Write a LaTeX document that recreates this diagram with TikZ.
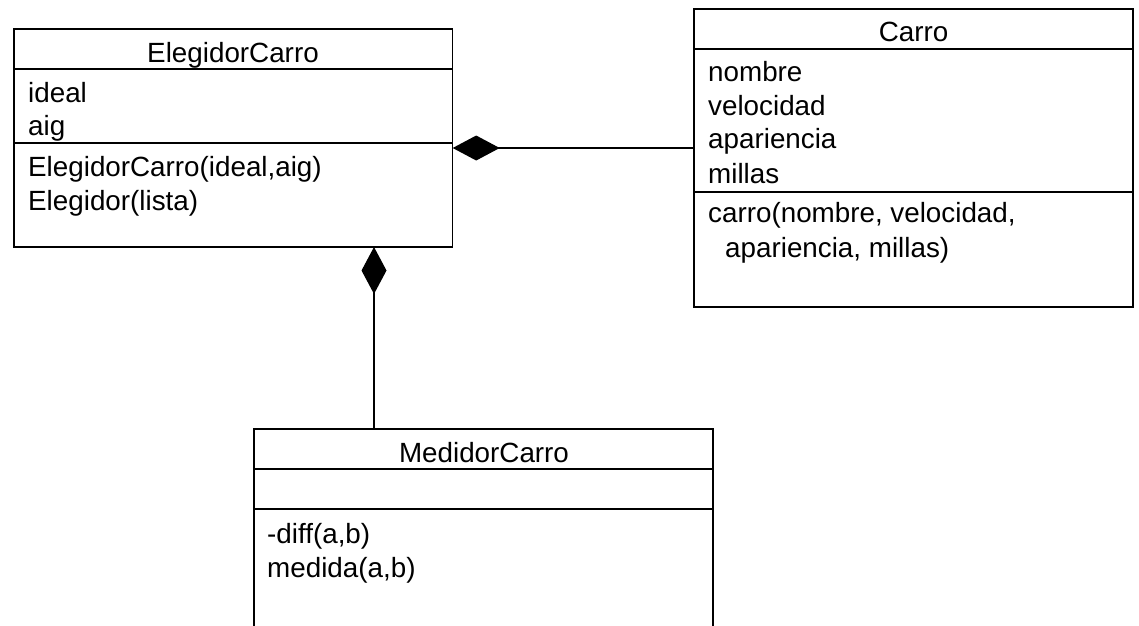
\documentclass[tikz,border=0pt]{standalone}
\usepackage{fontspec}
\setmainfont{Liberation Sans}
\usetikzlibrary{arrows.meta}
\begin{document}
\begin{tikzpicture}[x=1pt,y=-1pt,
  classbox/.style={draw, line width=1.5pt, inner sep=0pt, outer sep=0pt, anchor=north west},
  divider/.style={line width=1.5pt},
  txt/.style={inner sep=0pt, anchor=base west, font=\fontsize{27.8pt}{34pt}\selectfont},
  title/.style={inner sep=0pt, anchor=base, font=\fontsize{27.8pt}{34pt}\selectfont},
  comp/.style={line width=1.5pt, {Diamond[length=47pt,width=25pt,fill=black]}-}]
\useasboundingbox (0,0) rectangle (1139,625);
\fill[white] (0,0) rectangle (1139,625);
\clip (0,0) rectangle (1139,625);

% ElegidorCarro
\node[classbox, minimum width=438.7pt, minimum height=218pt] (elegidor) at (14,29) {};
\draw[divider] (elegidor.west |- 0,69) -- (elegidor.east |- 0,69);
\draw[divider] (elegidor.west |- 0,143) -- (elegidor.east |- 0,143);
\node[title] (elegidorname) at (233,62) {ElegidorCarro};
\node[txt] (eattr1) at (28,102) {ideal};
\node[txt] (eattr2) at (28,135) {aig};
\node[txt] (emeth1) at (28,176) {ElegidorCarro(ideal,aig)};
\node[txt] (emeth2) at (28,210.5) {Elegidor(lista)};

% Carro
\node[classbox, minimum width=439pt, minimum height=298pt] (carro) at (694,9) {};
\draw[divider] (carro.west |- 0,49) -- (carro.east |- 0,49);
\draw[divider] (carro.west |- 0,192) -- (carro.east |- 0,192);
\node[title] (carroname) at (913.5,41.5) {Carro};
\node[txt] (cattr1) at (708,81) {nombre};
\node[txt] (cattr2) at (708,115) {velocidad};
\node[txt] (cattr3) at (708,148.5) {apariencia};
\node[txt] (cattr4) at (708,183) {millas};
\node[txt] (cmeth1) at (708,222) {carro(nombre, velocidad,};
\node[txt] (cmeth2) at (725,257) {apariencia, millas)};

% MedidorCarro (runs past the lower edge)
\node[classbox, minimum width=459pt, minimum height=300pt] (medidor) at (254,429) {};
\draw[divider] (medidor.west |- 0,469) -- (medidor.east |- 0,469);
\draw[divider] (medidor.west |- 0,509) -- (medidor.east |- 0,509);
\node[title] (medidorname) at (484,462) {MedidorCarro};
\node[txt] (mmeth1) at (267,543) {-diff(a,b)};
\node[txt] (mmeth2) at (267,577) {medida(a,b)};

% Composition links
\coordinate (hlink) at (0,148);
\coordinate (vlink) at (374,0);
\draw[comp] (elegidor.east |- hlink) -- (carro.west |- hlink);
\draw[comp] (elegidor.south -| vlink) -- (medidor.north -| vlink);
\end{tikzpicture}
\end{document}
